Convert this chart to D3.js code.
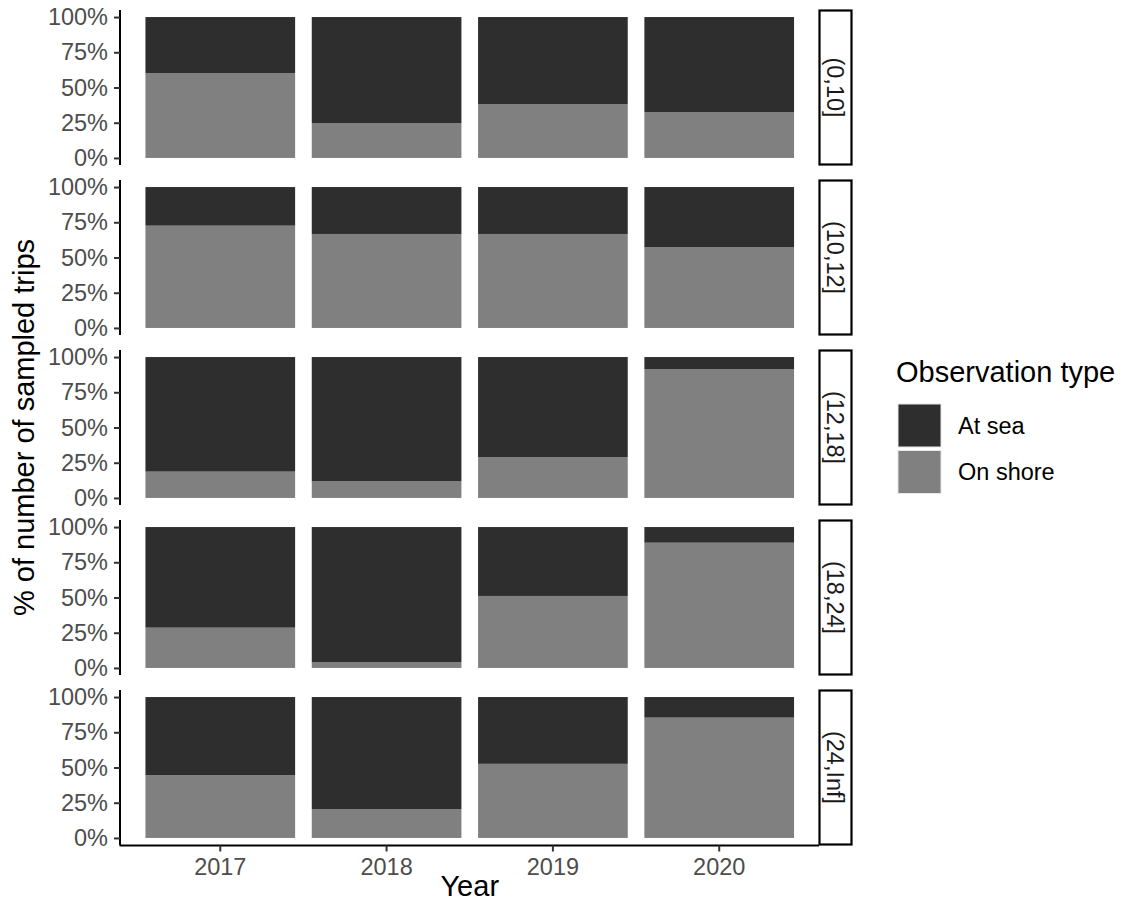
<!DOCTYPE html>
<html>
<head>
<meta charset="utf-8">
<script src="https://cdn.jsdelivr.net/npm/d3@7"></script>
<style>
  html, body { margin: 0; padding: 0; background: #fff; }
  svg { display: block; font-family: Arial, "Liberation Sans", sans-serif; }
</style>
</head>
<body>
<svg id="chart" width="1126" height="903"></svg>
<script>
// ---------------- data ----------------
const years = ["2017", "2018", "2019", "2020"];
const sizeClasses = ["(0,10]", "(10,12]", "(12,18]", "(18,24]", "(24,Inf]"];
const obsTypes = ["At sea", "On shore"];
const yTickValues = [0, 0.25, 0.5, 0.75, 1];
const yTickLabels = ["0%", "25%", "50%", "75%", "100%"];

// share of sampled trips observed on shore, per size class, per year
const onShore0_10   = [0.603, 0.248, 0.383, 0.326];
const onShore10_12  = [0.726, 0.667, 0.667, 0.572];
const onShore12_18  = [0.187, 0.118, 0.288, 0.915];
const onShore18_24  = [0.286, 0.040, 0.511, 0.889];
const onShore24_Inf = [0.446, 0.205, 0.526, 0.854];

// share of sampled trips observed at sea
const atSea0_10   = [0.397, 0.752, 0.617, 0.674];
const atSea10_12  = [0.274, 0.333, 0.333, 0.428];
const atSea12_18  = [0.813, 0.882, 0.712, 0.085];
const atSea18_24  = [0.714, 0.960, 0.489, 0.111];
const atSea24_Inf = [0.554, 0.795, 0.474, 0.146];

const onShoreByClass = [onShore0_10, onShore10_12, onShore12_18, onShore18_24, onShore24_Inf];
const atSeaByClass = [atSea0_10, atSea10_12, atSea12_18, atSea18_24, atSea24_Inf];

// ---------------- layout ----------------
const svg = d3.select("#chart");
const panelLeft = 120.5, panelRight = 819;
const firstTop = 10, panelH = 155, panelStep = 170;
const stripW = 32;

const fill = d3.scaleOrdinal().domain(obsTypes).range(["#2e2e2e", "#808080"]);

const x = d3.scaleBand().domain(years).range([panelLeft, panelRight])
  .paddingInner(0.1).paddingOuter(0.15);

const tickFont = 23.5, titleFont = 29;

sizeClasses.forEach((cls, k) => {
  const top = firstTop + k * panelStep;
  const y = d3.scaleLinear().domain([-0.05, 1.05]).range([top + panelH, top]);

  const rows = years.map((yr, i) => ({
    year: yr,
    "On shore": onShoreByClass[k][i],
    "At sea": atSeaByClass[k][i]
  }));
  // stack: On shore at bottom, At sea above
  const stacked = d3.stack().keys(["On shore", "At sea"])(rows);

  const g = svg.append("g").attr("class", "panel");
  g.selectAll("g.series").data(stacked).join("g")
    .attr("class", "series")
    .attr("fill", d => fill(d.key))
    .selectAll("rect").data(d => d).join("rect")
      .attr("x", d => x(d.data.year))
      .attr("width", x.bandwidth())
      .attr("y", d => y(d[1]))
      .attr("height", d => y(d[0]) - y(d[1]));

  // y axis
  const yAxis = d3.axisLeft(y).tickValues(yTickValues)
    .tickFormat((d, i) => yTickLabels[i]).tickSize(6).tickPadding(6);
  const ga = svg.append("g").attr("transform", `translate(${panelLeft - 0.5},0)`).call(yAxis);
  ga.select(".domain").attr("stroke", "#000").attr("stroke-width", 2)
    .attr("d", `M0,${top}V${top + panelH}`);
  ga.selectAll(".tick line").attr("stroke", "#333").attr("stroke-width", 2);
  ga.selectAll(".tick text").attr("fill", "#4d4d4d")
    .style("font-size", tickFont + "px").style("font-family", "Arial, 'Liberation Sans', sans-serif");

  // strip
  svg.append("rect")
    .attr("x", panelRight + 0.5).attr("y", top + 0.5)
    .attr("width", stripW).attr("height", panelH - 1)
    .attr("fill", "#fff").attr("stroke", "#000").attr("stroke-width", 2.2);
  svg.append("text")
    .attr("transform", `translate(${panelRight + 0.5 + stripW / 2},${top + panelH / 2}) rotate(90)`)
    .attr("text-anchor", "middle").attr("dy", "0.35em")
    .attr("fill", "#1a1a1a").style("font-size", tickFont + "px")
    .text(cls);
});

// x axis on bottom panel
const bottom = firstTop + 4 * panelStep + panelH;
const xAxis = d3.axisBottom(x).tickSize(6).tickPadding(7);
const gx = svg.append("g").attr("transform", `translate(0,${bottom + 0.5})`).call(xAxis);
gx.select(".domain").attr("stroke", "#000").attr("stroke-width", 2)
  .attr("d", `M${panelLeft - 1},0H${panelRight}`);
gx.selectAll(".tick line").attr("stroke", "#333").attr("stroke-width", 2);
gx.selectAll(".tick text").attr("fill", "#4d4d4d")
  .style("font-size", tickFont + "px").style("font-family", "Arial, 'Liberation Sans', sans-serif");

// axis titles
svg.append("text")
  .attr("x", (panelLeft + panelRight) / 2).attr("y", 896)
  .attr("text-anchor", "middle").attr("fill", "#000")
  .style("font-size", titleFont + "px").text("Year");

svg.append("text")
  .attr("transform", `translate(34,${(firstTop + bottom) / 2}) rotate(-90)`)
  .attr("text-anchor", "middle").attr("fill", "#000")
  .style("font-size", titleFont + "px").text("% of number of sampled trips");

// legend
const lg = svg.append("g").attr("transform", "translate(896,0)");
lg.append("text").attr("x", 0).attr("y", 382).attr("fill", "#000")
  .style("font-size", titleFont + "px").text("Observation type");
const keyY = [404, 450.5];
obsTypes.forEach((t, i) => {
  lg.append("rect").attr("x", 2).attr("y", keyY[i]).attr("width", 43).attr("height", 43)
    .attr("fill", fill(t)).attr("stroke", "#e6e6e6").attr("stroke-width", 1);
  lg.append("text").attr("x", 62).attr("y", keyY[i] + 21.5).attr("dy", "0.35em")
    .attr("fill", "#000").style("font-size", tickFont + "px").text(t);
});
</script>
</body>
</html>
